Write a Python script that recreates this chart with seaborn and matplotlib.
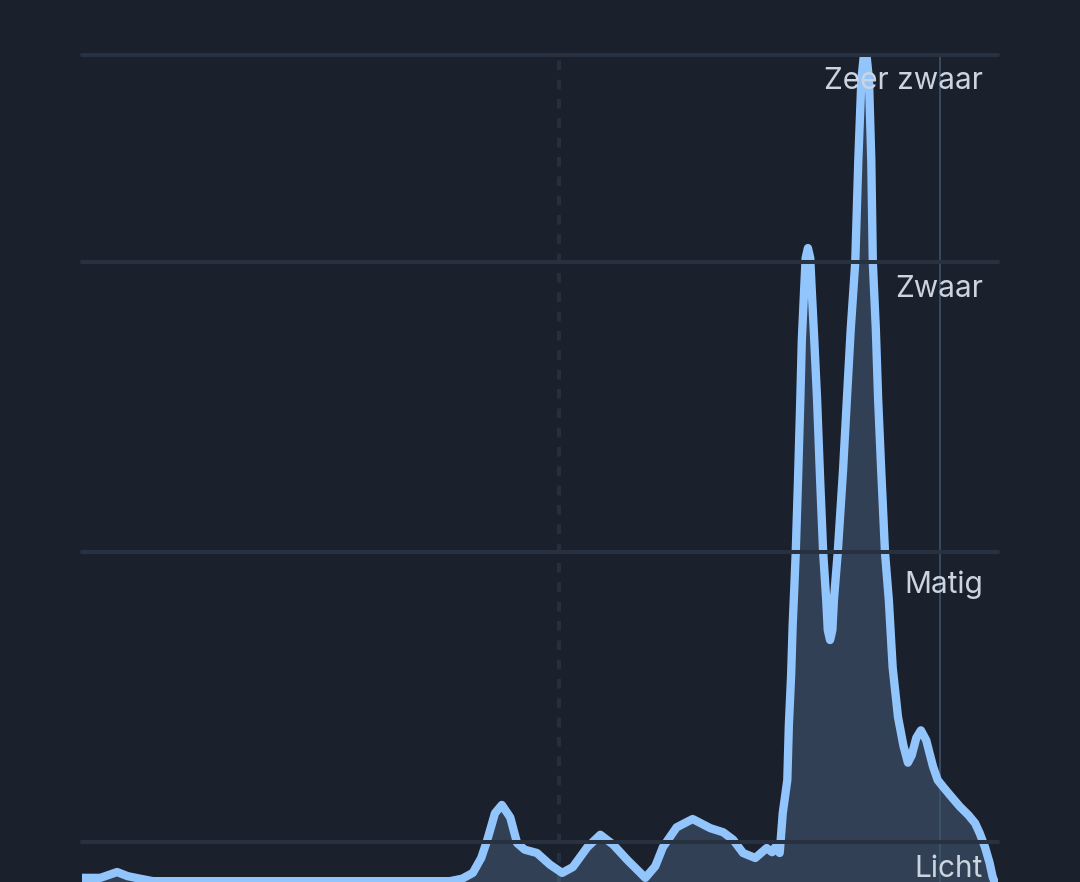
import pandas as pd
import numpy as np
import matplotlib.pyplot as plt
import seaborn as sns

# neerslag intensiteit, tijd in minuten
minuten = [0, 2.4, 4.6, 6.0, 7.6, 9.3, 48.2, 49.8, 51.2, 52.3, 53.1, 54.1, 55.0,
           56.1, 57.0, 58.0, 59.6, 61.3, 62.9, 64.3, 66.2, 67.9, 69.6, 71.4, 73.8,
           75.1, 76.1, 77.9, 80.0, 82.3, 84.0, 85.3, 86.6, 88.2, 89.7, 90.4, 90.8,
           91.4, 91.8, 92.4, 92.6, 92.9, 93.1, 93.3, 93.5, 93.8, 94.1, 94.3, 94.6,
           94.8, 95.1, 95.4, 95.6, 95.9, 96.3, 96.7, 97.1, 97.5, 97.7, 98.0, 98.3,
           98.5, 99.0, 99.7, 100.2, 100.7, 101.3, 101.7, 102.1, 102.6, 103.1, 103.4,
           103.6, 104.0, 104.3, 104.7, 105.2, 105.7, 106.2, 106.9, 107.6, 108.2,
           108.7, 109.3, 109.9, 110.6, 111.1, 111.5, 112.1, 112.8, 113.7, 115.0,
           116.1, 117.0, 117.6, 118.3, 118.9, 119.3, 120.0]
intensiteit = [0.7, 0.7, 1.4, 0.9, 0.6, 0.3, 0.3, 0.6, 1.3, 3.1, 5.3, 8.5, 9.5,
               8.0, 4.9, 4.1, 3.7, 2.3, 1.3, 2.0, 4.4, 5.9, 4.7, 2.9, 0.7,
               2.1, 4.4, 6.8, 7.8, 6.7, 6.2, 5.3, 3.7, 3.1, 4.3, 3.8, 4.4,
               3.7, 8.5, 12.5, 19.1, 25.2, 31.2, 35.4, 39.9, 48.7, 58.4, 65.6, 71.6,
               75.5, 76.7, 75.5, 71.6, 66.2, 58.4, 48.7, 39.9, 34.2, 30.6, 29.4, 30.6,
               34.2, 39.9, 49.9, 58.4, 66.8, 75.0, 87.3, 97.0, 101.5, 97.0, 87.3,
               75.0, 66.8, 58.4, 49.9, 39.9, 34.2, 26.1, 20.1, 16.7, 14.6,
               15.5, 17.6, 18.5, 17.3, 15.5, 14.1, 12.5, 11.7, 10.7, 9.3,
               8.3, 7.3, 6.1, 4.4, 2.5, 0.8, -0.8]

niveau_namen = ['Licht', 'Matig', 'Zwaar', 'Zeer zwaar']
niveau_waarden = [5, 40, 75, 100]
nu = 62.5
marker_tijd = 112.4

df = pd.DataFrame({'minuten': minuten, 'intensiteit': intensiteit})

bg = '#1a202c'
lijn = '#93c5fd'
grid = '#27313f'
tekst = '#cbd5e1'

sns.set_theme(style='dark')
plt.rcParams['font.family'] = ['Inter', 'DejaVu Sans']

fig = plt.figure(figsize=(10.8, 8.82), dpi=100, facecolor=bg)
ax = fig.add_axes([82 / 1080, 0, 916 / 1080, 827 / 882])
ax.set_facecolor(bg)

ax.fill_between(df['minuten'], df['intensiteit'], -5, color=lijn, alpha=0.2,
                linewidth=0, zorder=1)
sns.lineplot(data=df, x='minuten', y='intensiteit', ax=ax, color=lijn,
             linewidth=6.0, solid_capstyle='round', solid_joinstyle='round',
             zorder=2)

# nu-lijn (gestreept) en tijdmarker
ax.axvline(nu, color='#243040', linewidth=2.9, linestyle=(0, (2.4, 2.4)), zorder=0.5)
ax.axvline(marker_tijd, color='#3f5670', linewidth=1.1, zorder=1.5)

offsets = {'Licht': -25, 'Matig': -29.5, 'Zwaar': -25, 'Zeer zwaar': -24.5}
for naam, waarde in zip(niveau_namen, niveau_waarden):
    ax.axhline(waarde, color=grid, linewidth=2.9, zorder=3, clip_on=False)
    ax.annotate(naam, xy=(0.9836, waarde), xycoords=('axes fraction', 'data'),
                xytext=(0, offsets[naam]), textcoords='offset points',
                ha='right', va='baseline', fontsize=21.5, color=tekst, zorder=4,
                annotation_clip=False)

ax.set_xlim(0, 120)
ax.set_ylim(0.2, 100)
ax.set_xlabel('')
ax.set_ylabel('')
ax.set_xticks([])
ax.set_yticks([])
for s in ax.spines.values():
    s.set_visible(False)

fig.savefig('out.png', dpi=100, facecolor=bg)
